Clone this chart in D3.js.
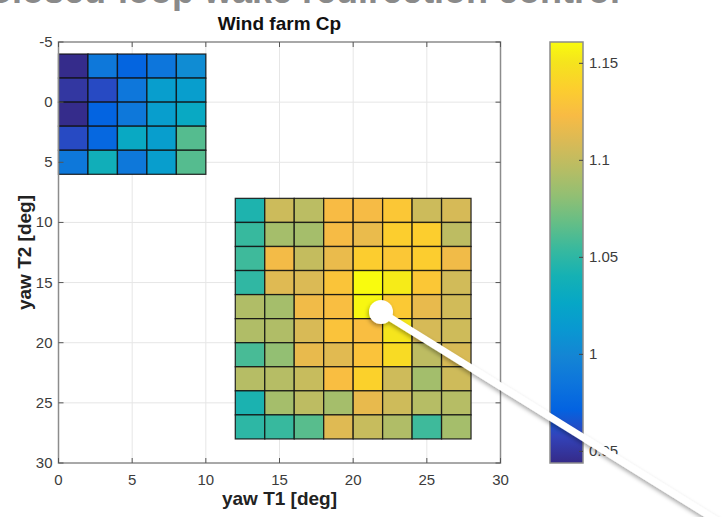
<!DOCTYPE html>
<html>
<head>
<meta charset="utf-8">
<script src="https://cdn.jsdelivr.net/npm/d3@7"></script>
<style>
  body { margin: 0; background: #fff; }
  svg { display: block; font-family: "Liberation Sans", Arial, sans-serif; }
</style>
</head>
<body>
<svg id="chart" width="722" height="517"></svg>
<script>
// yaw angles (cell centres) and wind farm Cp values
const smallX = [1, 3, 5, 7, 9];
const smallY = [-3, -1, 1, 3, 5];
const smallCp = [
  [0.945, 0.988, 0.973, 0.986, 1.004],
  [0.951, 0.961, 0.987, 1.018, 1.018],
  [0.945, 0.972, 0.988, 1.018, 1.029],
  [0.961, 0.975, 1.029, 1.018, 1.063],
  [0.988, 1.037, 0.988, 1.018, 1.063]
];

const bigX = [13, 15, 17, 19, 21, 23, 25, 27];
const bigY = [9, 11, 13, 15, 17, 19, 21, 23, 25, 27];
const bigCp = [
  [1.044, 1.104, 1.097, 1.123, 1.122, 1.132, 1.104, 1.108],
  [1.054, 1.089, 1.089, 1.122, 1.117, 1.137, 1.137, 1.098],
  [1.056, 1.121, 1.101, 1.117, 1.136, 1.132, 1.136, 1.120],
  [1.051, 1.112, 1.110, 1.130, 1.161, 1.154, 1.132, 1.106],
  [1.093, 1.089, 1.120, 1.125, 1.159, 1.133, 1.116, 1.106],
  [1.093, 1.093, 1.109, 1.129, 1.125, 1.151, 1.108, 1.105],
  [1.059, 1.082, 1.116, 1.113, 1.129, 1.145, 1.098, 1.109],
  [1.095, 1.095, 1.102, 1.125, 1.139, 1.105, 1.088, 1.105],
  [1.043, 1.089, 1.098, 1.089, 1.116, 1.105, 1.095, 1.095],
  [1.050, 1.054, 1.064, 1.112, 1.102, 1.093, 1.056, 1.089]
];

const xTicks = [0, 5, 10, 15, 20, 25, 30];
const yTicks = [-5, 0, 5, 10, 15, 20, 25, 30];
const cbTicks = [0.95, 1, 1.05, 1.1, 1.15];
const cbLabels = ["0.95", "1", "1.05", "1.1", "1.15"];
const cpRange = [0.944, 1.161];
const cellSize = 2;

// parula colormap stops
const parulaPos = [0, 4, 8, 12, 16, 20, 24, 28, 32, 36, 40, 44, 48, 52, 56, 60, 63].map(d => d / 63);
const parulaCols = ["#352a87", "#3243ba", "#0363e1", "#0d75dc", "#1485d4", "#0998d1", "#06a7c6",
  "#15b1b4", "#38b99e", "#65be86", "#92bf73", "#b7bd64", "#d9ba56", "#f8bb44", "#fcce2e", "#f5e41d", "#f9fb0e"];
const parula = d3.scaleLinear().domain(parulaPos).range(parulaCols).interpolate(d3.interpolateRgb).clamp(true);

const svg = d3.select("#chart");
const margin = { left: 58.5, right: 500.5, top: 42, bottom: 463 };

const x = d3.scaleLinear().domain([0, 30]).range([margin.left, margin.right]);
const y = d3.scaleLinear().domain([-5, 30]).range([margin.top, margin.bottom]);
const color = v => parula((v - cpRange[0]) / (cpRange[1] - cpRange[0]));

// slide title, cut off at the top edge (only its lower edge shows)
svg.append("text")
  .attr("x", -14).attr("y", 3)
  .attr("font-size", 36).attr("font-weight", "bold")
  .attr("fill", "#8a8a8a")
  .text("Closed-loop wake redirection control");

svg.append("text")
  .attr("x", (margin.left + margin.right) / 2).attr("y", 30)
  .attr("text-anchor", "middle")
  .attr("font-size", 19).attr("font-weight", "bold")
  .attr("fill", "#111")
  .text("Wind farm Cp");

// grid
const grid = svg.append("g").attr("stroke", "#e6e6e6").attr("stroke-width", 1);
grid.selectAll(".gx").data(xTicks.slice(1, -1)).join("line")
  .attr("x1", d => x(d)).attr("x2", d => x(d))
  .attr("y1", margin.top).attr("y2", margin.bottom);
grid.selectAll(".gy").data(yTicks.slice(1, -1)).join("line")
  .attr("x1", margin.left).attr("x2", margin.right)
  .attr("y1", d => y(d)).attr("y2", d => y(d));

function drawCells(xs, ys, vals) {
  const cells = [];
  vals.forEach((row, i) => row.forEach((v, j) => cells.push({ cx: xs[j], cy: ys[i], v })));
  svg.append("g").selectAll("rect").data(cells).join("rect")
    .attr("x", d => x(d.cx - cellSize / 2))
    .attr("y", d => y(d.cy - cellSize / 2))
    .attr("width", d => x(d.cx + cellSize / 2) - x(d.cx - cellSize / 2))
    .attr("height", d => y(d.cy + cellSize / 2) - y(d.cy - cellSize / 2))
    .attr("fill", d => color(d.v))
    .attr("stroke", "#111")
    .attr("stroke-opacity", 0.85)
    .attr("stroke-width", 1.3);
}
drawCells(smallX, smallY, smallCp);
drawCells(bigX, bigY, bigCp);

// axes box + ticks
const axisCol = "#8c8c8c";
const tickLen = 5;
svg.append("rect")
  .attr("x", margin.left).attr("y", margin.top)
  .attr("width", margin.right - margin.left).attr("height", margin.bottom - margin.top)
  .attr("fill", "none").attr("stroke", axisCol).attr("stroke-width", 1.5);

const ticks = svg.append("g").attr("stroke", "#555").attr("stroke-width", 1);
xTicks.forEach(t => {
  ticks.append("line").attr("x1", x(t)).attr("x2", x(t)).attr("y1", margin.bottom).attr("y2", margin.bottom - tickLen);
  ticks.append("line").attr("x1", x(t)).attr("x2", x(t)).attr("y1", margin.top).attr("y2", margin.top + tickLen);
});
yTicks.forEach(t => {
  ticks.append("line").attr("y1", y(t)).attr("y2", y(t)).attr("x1", margin.left).attr("x2", margin.left + tickLen);
  ticks.append("line").attr("y1", y(t)).attr("y2", y(t)).attr("x1", margin.right).attr("x2", margin.right - tickLen);
});

const labelCol = "#3c3c3c";
svg.append("g").selectAll("text").data(xTicks).join("text")
  .attr("x", d => x(d)).attr("y", margin.bottom + 22)
  .attr("text-anchor", "middle").attr("font-size", 15).attr("fill", labelCol)
  .text(d => d);
svg.append("g").selectAll("text").data(yTicks).join("text")
  .attr("x", margin.left - 6).attr("y", d => y(d) + 5)
  .attr("text-anchor", "end").attr("font-size", 15).attr("fill", labelCol)
  .text(d => d);

svg.append("text")
  .attr("x", (margin.left + margin.right) / 2).attr("y", 505)
  .attr("text-anchor", "middle").attr("font-size", 19).attr("font-weight", "bold").attr("fill", "#222")
  .text("yaw T1 [deg]");
svg.append("text")
  .attr("transform", `translate(31,${(margin.top + margin.bottom) / 2}) rotate(-90)`)
  .attr("text-anchor", "middle").attr("font-size", 19).attr("font-weight", "bold").attr("fill", "#222")
  .text("yaw T2 [deg]");

// colorbar
const cb = { x0: 550, x1: 583 };
const cbY = d3.scaleLinear().domain(cpRange).range([margin.bottom, margin.top]);
const grad = svg.append("defs").append("linearGradient")
  .attr("id", "cbgrad").attr("x1", 0).attr("x2", 0).attr("y1", 1).attr("y2", 0);
grad.selectAll("stop").data(parulaPos).join("stop")
  .attr("offset", d => d).attr("stop-color", (d, i) => parulaCols[i]);
svg.append("rect")
  .attr("x", cb.x0).attr("y", margin.top)
  .attr("width", cb.x1 - cb.x0).attr("height", margin.bottom - margin.top)
  .attr("fill", "url(#cbgrad)").attr("stroke", axisCol).attr("stroke-width", 1.5);
const cbt = svg.append("g");
cbTicks.forEach((t, i) => {
  cbt.append("line").attr("x1", cb.x1).attr("x2", cb.x1 - 4).attr("y1", cbY(t)).attr("y2", cbY(t))
    .attr("stroke", "#444");
  cbt.append("text").attr("x", cb.x1 + 6).attr("y", cbY(t) + 5)
    .attr("font-size", 15).attr("fill", labelCol).text(cbLabels[i]);
});

// pointer annotation drawn over the chart
const defs = svg.select("defs");
const f = defs.append("filter").attr("id", "shadow").attr("x", "-20%").attr("y", "-20%").attr("width", "140%").attr("height", "140%");
f.append("feDropShadow").attr("dx", -1).attr("dy", 2).attr("stdDeviation", 2).attr("flood-color", "#000").attr("flood-opacity", 0.35);
const pointer = svg.append("g").attr("filter", "url(#shadow)");
pointer.append("line")
  .attr("x1", 381).attr("y1", 312).attr("x2", 745).attr("y2", 538)
  .attr("stroke", "#fff").attr("stroke-width", 7);
pointer.append("circle").attr("cx", 381).attr("cy", 312).attr("r", 12).attr("fill", "#fff");
</script>
</body>
</html>
